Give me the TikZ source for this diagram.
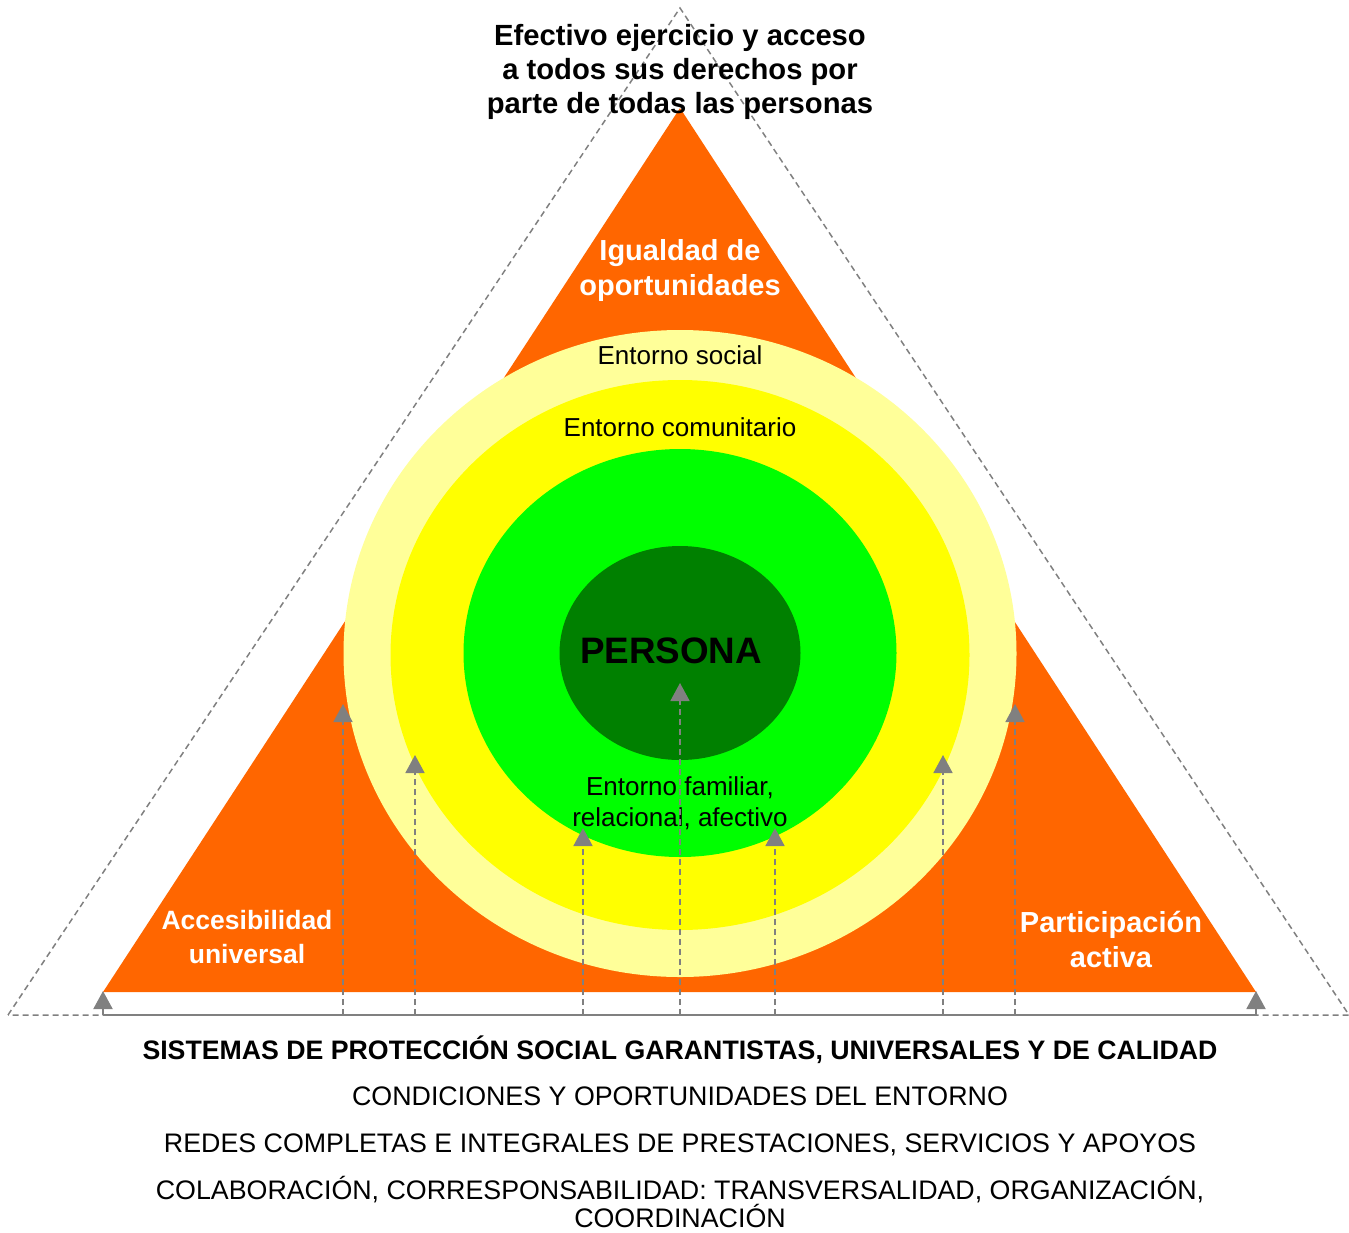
\documentclass[tikz,border=0pt]{standalone}
\usepackage{fontspec}
\setmainfont{Liberation Sans}
\usetikzlibrary{shapes.geometric,arrows.meta}
\definecolor{orng}{HTML}{FF6600}
\definecolor{lyel}{HTML}{FFFF99}
\definecolor{yel}{HTML}{FFFF00}
\definecolor{grn}{HTML}{00FF00}
\definecolor{dgrn}{HTML}{008000}
\definecolor{gry}{HTML}{808080}
\tikzset{
  ring/.style={ellipse,draw=none,inner sep=0pt},
  guide/.style={draw=gry,line width=1.5pt,dash pattern=on 6pt off 4pt},
  uparrow/.style={draw=gry,line width=1.8pt,dash pattern=on 6pt off 4pt,-{Triangle[width=19pt,length=18pt]},gry},
  baseline/.style={draw=gry,line width=2pt},
  basearrow/.style={draw=gry,line width=2pt,-{Triangle[width=19pt,length=18pt]}},
  whitebold/.style={text=white,font=\fontsize{29}{35}\selectfont\bfseries,align=center,inner sep=0pt},
  blacktxt/.style={text=black,font=\fontsize{26}{31}\selectfont,align=center,inner sep=0pt},
  bottxt/.style={text=black,font=\fontsize{26.8}{28}\selectfont,align=center,inner sep=0pt},
}
\begin{document}
\begin{tikzpicture}[x=1pt,y=-1pt]
\useasboundingbox (0,0) rectangle (1349,1232);
% dashed outer triangle
\coordinate (dA) at (680,8);
\coordinate (dL) at (8,1015);
\coordinate (dR) at (1349,1015);
\draw[guide] (dL) -- (dA) -- (dR) -- cycle;
% orange triangle
\coordinate (oA) at (680,108);
\coordinate (oL) at (103,992);
\coordinate (oR) at (1256,992);
\fill[orng] (oA) -- (oL) -- (oR) -- cycle;
% rings
\node[ring,fill=lyel,minimum width=673pt,minimum height=647pt] (social) at (680,653.5) {};
\node[ring,fill=yel,minimum width=579pt,minimum height=550pt] (comun) at (680,655) {};
\node[ring,fill=grn,minimum width=433pt,minimum height=408pt] (fam) at (680,653) {};
\node[ring,fill=dgrn,minimum width=241pt,minimum height=214pt] (persona) at (680,653) {};
% texts
\node[text=black,font=\fontsize{29.2}{34}\selectfont\bfseries,align=center,inner sep=0pt] (title) at (680,72) {Efectivo ejercicio y acceso\\a todos sus derechos por\\parte de todas las personas};
\node[whitebold] (igual) at (680,270.5) {Igualdad de\\oportunidades};
\node[whitebold,font=\fontsize{26.5}{34}\selectfont\bfseries] (acces) at (247,937) {Accesibilidad\\universal};
\node[whitebold] (partic) at (1111,939) {Participación\\activa};
\node[blacktxt] (tsocial) at (680,355) {Entorno social};
\node[blacktxt] (tcomun) at (680,427) {Entorno comunitario};
\node[text=black,font=\fontsize{36.8}{40}\selectfont\bfseries,inner sep=0pt] (tpers) at (671,651) {PERSONA};
\node[blacktxt] (tfam) at (680,803.5) {Entorno familiar,\\relacional, afectivo};
% base line and arrows
\coordinate (bL) at (103,1015);
\coordinate (bR) at (1256,1015);
\coordinate (tL) at (103,991);
\coordinate (tR) at (1256,991);
\draw[baseline] (bL) -- (bR);
\draw[basearrow] (bL) -- (tL);
\draw[basearrow] (bR) -- (tR);
\foreach \x/\y [count=\i] in {343/704,415/755,583/828,680/683,775/828,943/755,1015/704}{
  \coordinate (s\i) at (\x,1015);
  \coordinate (e\i) at (\x,\y);
  \draw[uparrow] (s\i) -- (e\i);
}
% bottom texts
\node[bottxt,font=\fontsize{26.7}{28}\selectfont\bfseries] (b1) at (680,1050) {SISTEMAS DE PROTECCIÓN SOCIAL GARANTISTAS, UNIVERSALES Y DE CALIDAD};
\node[bottxt] (b2) at (680,1096) {CONDICIONES Y OPORTUNIDADES DEL ENTORNO};
\node[bottxt] (b3) at (680,1145) {REDES COMPLETAS E INTEGRALES DE PRESTACIONES, SERVICIOS Y APOYOS};
\node[bottxt] (b4) at (680,1202) {COLABORACIÓN, CORRESPONSABILIDAD: TRANSVERSALIDAD, ORGANIZACIÓN,\\COORDINACIÓN};
\end{tikzpicture}
\end{document}
